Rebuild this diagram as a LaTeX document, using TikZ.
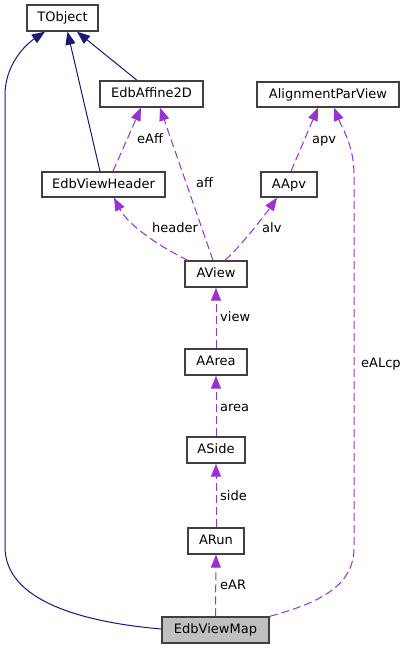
\documentclass[tikz,border=0pt]{standalone}
\usepackage{fontspec}
\setmainfont{DejaVu Sans}
\usetikzlibrary{arrows.meta}
\definecolor{navyedge}{HTML}{191970}
\definecolor{purpedge}{HTML}{9A32CD}
\definecolor{boxline}{HTML}{404040}
\definecolor{curfill}{HTML}{BFBFBF}
\begin{document}
\begin{tikzpicture}[x=1pt,y=-1pt,
  every node/.style={font=\fontsize{13}{15}\selectfont, text height=9.5pt, text depth=2.5pt, inner sep=0pt},
  box/.style={draw=boxline, line width=1.4pt, fill=white, minimum height=26pt},
  inherit/.style={draw=navyedge, line width=1pt, -{Triangle[length=13pt,width=10pt,fill=navyedge]}},
  usage/.style={draw=purpedge, line width=1pt, dash pattern=on 8pt off 4pt, -{Triangle[length=13pt,width=10pt,fill=purpedge]}},
  lbl/.style={anchor=base west}
]
\useasboundingbox (0,0) rectangle (404,649);
\node[box, minimum width=71pt] (tobj) at (62.5,18) {TObject};
\node[box, minimum width=103pt] (aff) at (151.5,94) {EdbAffine2D};
\node[box, minimum width=142pt, minimum height=25pt] (apv) at (328,94.5) {AlignmentParView};
\node[box, minimum width=123pt, minimum height=25pt] (evh) at (103.5,184.5) {EdbViewHeader};
\node[box, minimum width=56pt, minimum height=25pt] (aapv) at (289,184.5) {AApv};
\node[box, minimum width=62pt] (aview) at (216,274) {AView};
\node[box, minimum width=62pt] (aarea) at (216,362) {AArea};
\node[box, minimum width=58pt] (aside) at (216,450) {ASide};
\node[box, minimum width=56pt] (arun) at (216,541) {ARun};
\node[box, fill=curfill, minimum width=107pt] (evm) at (215.5,630) {EdbViewMap};

% inheritance
\draw[inherit] ([xshift=-14.5pt]aff.north) -- ([xshift=14.5pt]tobj.south);
\draw[inherit] ([xshift=-3.5pt]evh.north) -- ([xshift=5pt]tobj.south);
\draw[inherit] ([yshift=1pt]evm.west) .. controls (80,622) and (5,600) .. (5,547) -- (5,95) .. controls (5,65) and (25,45) .. ([xshift=-17.5pt]tobj.south);

% usage
\draw[usage] ([xshift=9.5pt]evh.north) -- ([xshift=-10.5pt]aff.south);
\node[lbl] (leaff) at (137,143) {eAff};
\draw[usage] ([xshift=-3pt]aview.north) -- ([xshift=8.5pt]aff.south);
\node[lbl] (laff) at (196,187) {aff};
\draw[usage] ([xshift=-28pt]aview.north) .. controls (160,247) and (128,225) .. ([xshift=10.5pt]evh.south);
\node[lbl] (lheader) at (152,232) {header};
\draw[usage] ([xshift=9pt]aview.north) .. controls (240,247) and (265,215) .. ([xshift=-12pt]aapv.south);
\node[lbl] (lalv) at (262,232) {alv};
\draw[usage] ([xshift=2pt]aapv.north) -- ([xshift=-10pt]apv.south);
\node[lbl] (lapv) at (312,143) {apv};
\draw[usage] ([xshift=54.5pt]evm.north) .. controls (310,605) and (354,590) .. (354,548) -- (354,175) .. controls (354,145) and (342,128) .. ([xshift=6pt]apv.south);
\node[lbl] (leal) at (361,367) {eALcp};
\draw[usage] (aarea.north) -- (aview.south);
\node[lbl] (lview) at (220,321) {view};
\draw[usage] (aside.north) -- (aarea.south);
\node[lbl] (larea) at (220,411) {area};
\draw[usage] (arun.north) -- (aside.south);
\node[lbl] (lside) at (220,500) {side};
\draw[usage] (evm.north) -- (arun.south);
\node[lbl] (lear) at (220,589) {eAR};
\end{tikzpicture}
\end{document}
